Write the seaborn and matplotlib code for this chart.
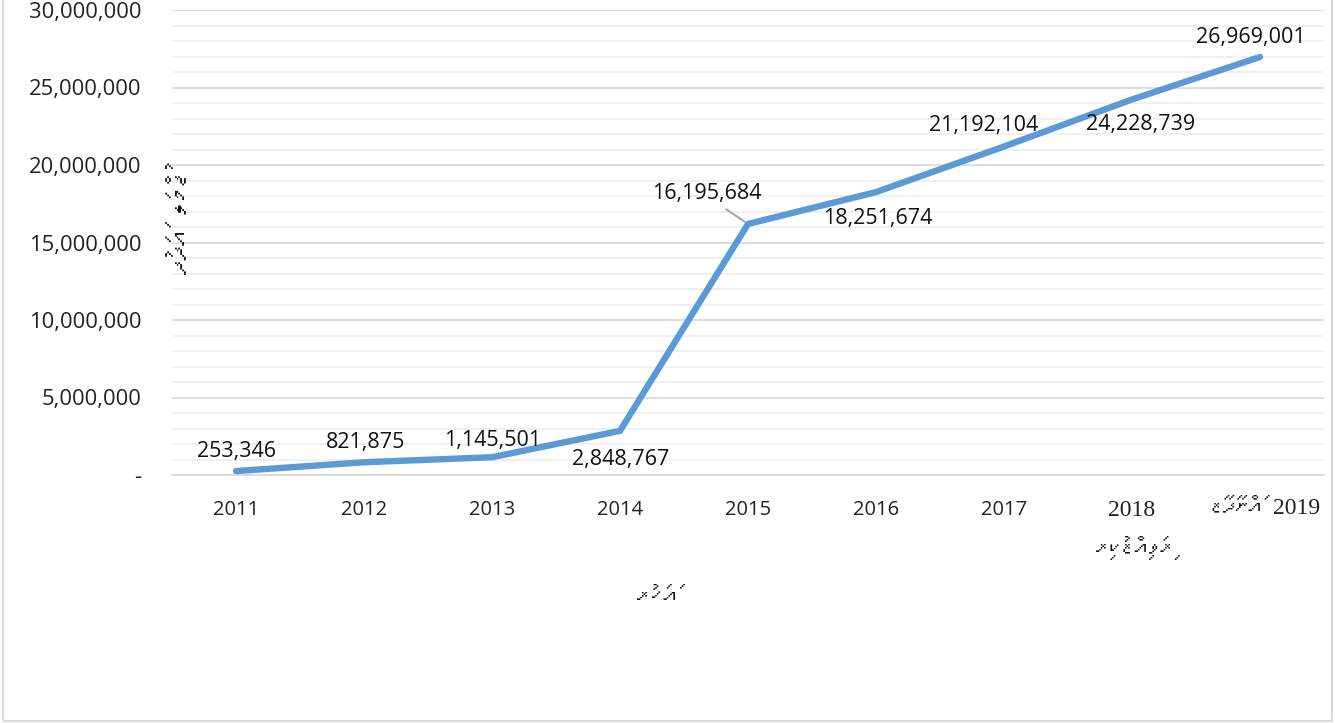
import numpy as np
import pandas as pd
import matplotlib
matplotlib.use('Agg')
import matplotlib.pyplot as plt
import matplotlib.ticker as mticker
import seaborn as sns
from matplotlib import font_manager
from matplotlib.ft2font import FT2Font

# data
years = ['2011', '2012', '2013', '2014', '2015', '2016', '2017', '2018', '2019']
values = [253346, 821875, 1145501, 2848767, 16195684, 18251674, 21192104, 24228739, 26969001]
# label offsets from each point, in pixels (dx, dy with y up)
label_dx = [1, 2, 1, 1, -41, 2, -20, 9, -9]
label_dy = [20, 20, 17, -29, 30, -26, 21, -25, 19]

x_title = 'އަހަރު'
y_title = 'ޖުމްލަ އަދަދު'
note_2018 = 'ރިވައިޒްކުރި'
note_2019 = 'އަންދާޒާ'


def rtl(s):
    # reverse Thaana text cluster by cluster so it reads right to left
    clusters = []
    for ch in s:
        if 0x07A6 <= ord(ch) <= 0x07B0 and clusters:
            clusters[-1] += ch
        else:
            clusters.append(ch)
    return ''.join(reversed(clusters))


# look for an installed font that has Thaana glyphs
thaana_family = 'DejaVu Sans'
for f in font_manager.fontManager.ttflist:
    try:
        if 0x0780 in FT2Font(f.fname).get_charmap():
            thaana_family = f.name
            break
    except Exception:
        pass

sns.set_style('white')
plt.rcParams['font.family'] = ['Open Sans', 'DejaVu Sans']

df = pd.DataFrame({'year': years, 'value': values})

fig = plt.figure(figsize=(13.35, 7.23), dpi=100)
ax = fig.add_axes([172 / 1335, 1 - 475 / 723, 1152 / 1335, 465 / 723])

sns.lineplot(data=df, x='year', y='value', ax=ax, color='#5b9bd5', linewidth=4.6,
             solid_capstyle='round', solid_joinstyle='miter', zorder=3)

ax.set_xlim(-0.5, len(years) - 0.5)
ax.set_ylim(0, 30000000)
ax.yaxis.set_major_locator(mticker.MultipleLocator(5000000))
ax.yaxis.set_minor_locator(mticker.MultipleLocator(1000000))
ax.yaxis.set_major_formatter(mticker.FuncFormatter(lambda v, p: '-' if v == 0 else f'{v:,.0f}'))
ax.grid(which='major', axis='y', color='#d9d9d9', linewidth=1.2)
ax.grid(which='minor', axis='y', color='#eeeeee', linewidth=1.2)
ax.set_axisbelow(True)
for s in ['top', 'right', 'left']:
    ax.spines[s].set_visible(False)
ax.spines['bottom'].set_color('#d9d9d9')
ax.spines['bottom'].set_linewidth(1.2)
ax.tick_params(axis='y', which='both', length=0, pad=22, labelsize=15.8, labelcolor='#222222')
ax.tick_params(axis='x', length=0, pad=18, labelsize=14.5, labelcolor='#222222')
ax.set_xlabel('')
ax.set_ylabel('')

# last year label is drawn by hand next to its note
ax.set_xticks(range(len(years)))
ax.set_xticklabels(years[:-1] + [''])
ax.get_xticklabels()[-2].set_fontfamily('Liberation Serif')
ax.get_xticklabels()[-2].set_fontsize(17)

# data labels
for i, v in enumerate(values):
    ox, oy = label_dx[i] * 0.72, label_dy[i] * 0.72
    if i == 4:
        ax.annotate(f'{v:,}', xy=(i, v), xytext=(ox, oy), textcoords='offset points',
                    ha='center', va='center', fontsize=15.5, color='#111111',
                    arrowprops=dict(arrowstyle='-', color='#a6a6a6', lw=1.5,
                                    relpos=(0.61, 0.0), shrinkA=2, shrinkB=3))
    else:
        ax.annotate(f'{v:,}', xy=(i, v), xytext=(ox, oy), textcoords='offset points',
                    ha='center', va='center', fontsize=15.5, color='#111111')

thaana = [thaana_family, 'DejaVu Sans']
fig.text(1297 / 1335, 1 - 508 / 723, years[-1], ha='center', va='center',
         fontsize=17, family='Liberation Serif', color='#222222')
fig.text(657 / 1335, 1 - 597 / 723, rtl(x_title), ha='center', va='center',
         fontsize=19, family=thaana, fontweight='bold', color='#111111')
fig.text(181 / 1335, 1 - 223 / 723, rtl(y_title), ha='center', va='center',
         rotation=90, fontsize=21, family=thaana, fontweight='bold', color='#111111')
fig.text(1135 / 1335, 1 - 548 / 723, rtl(note_2018), ha='center', va='center',
         fontsize=18.5, family=thaana, color='#111111')
fig.text(1236 / 1335, 1 - 508 / 723, rtl(note_2019), ha='center', va='center',
         fontsize=18.5, family=thaana, color='#111111')

# light frame around the chart area
fig.patches.append(plt.Rectangle((3 / 1335, 2 / 723), 1329 / 1335, 730 / 723,
                                 transform=fig.transFigure, fill=False,
                                 edgecolor='#d9d9d9', linewidth=1.5))

fig.savefig('out.png', dpi=100)
